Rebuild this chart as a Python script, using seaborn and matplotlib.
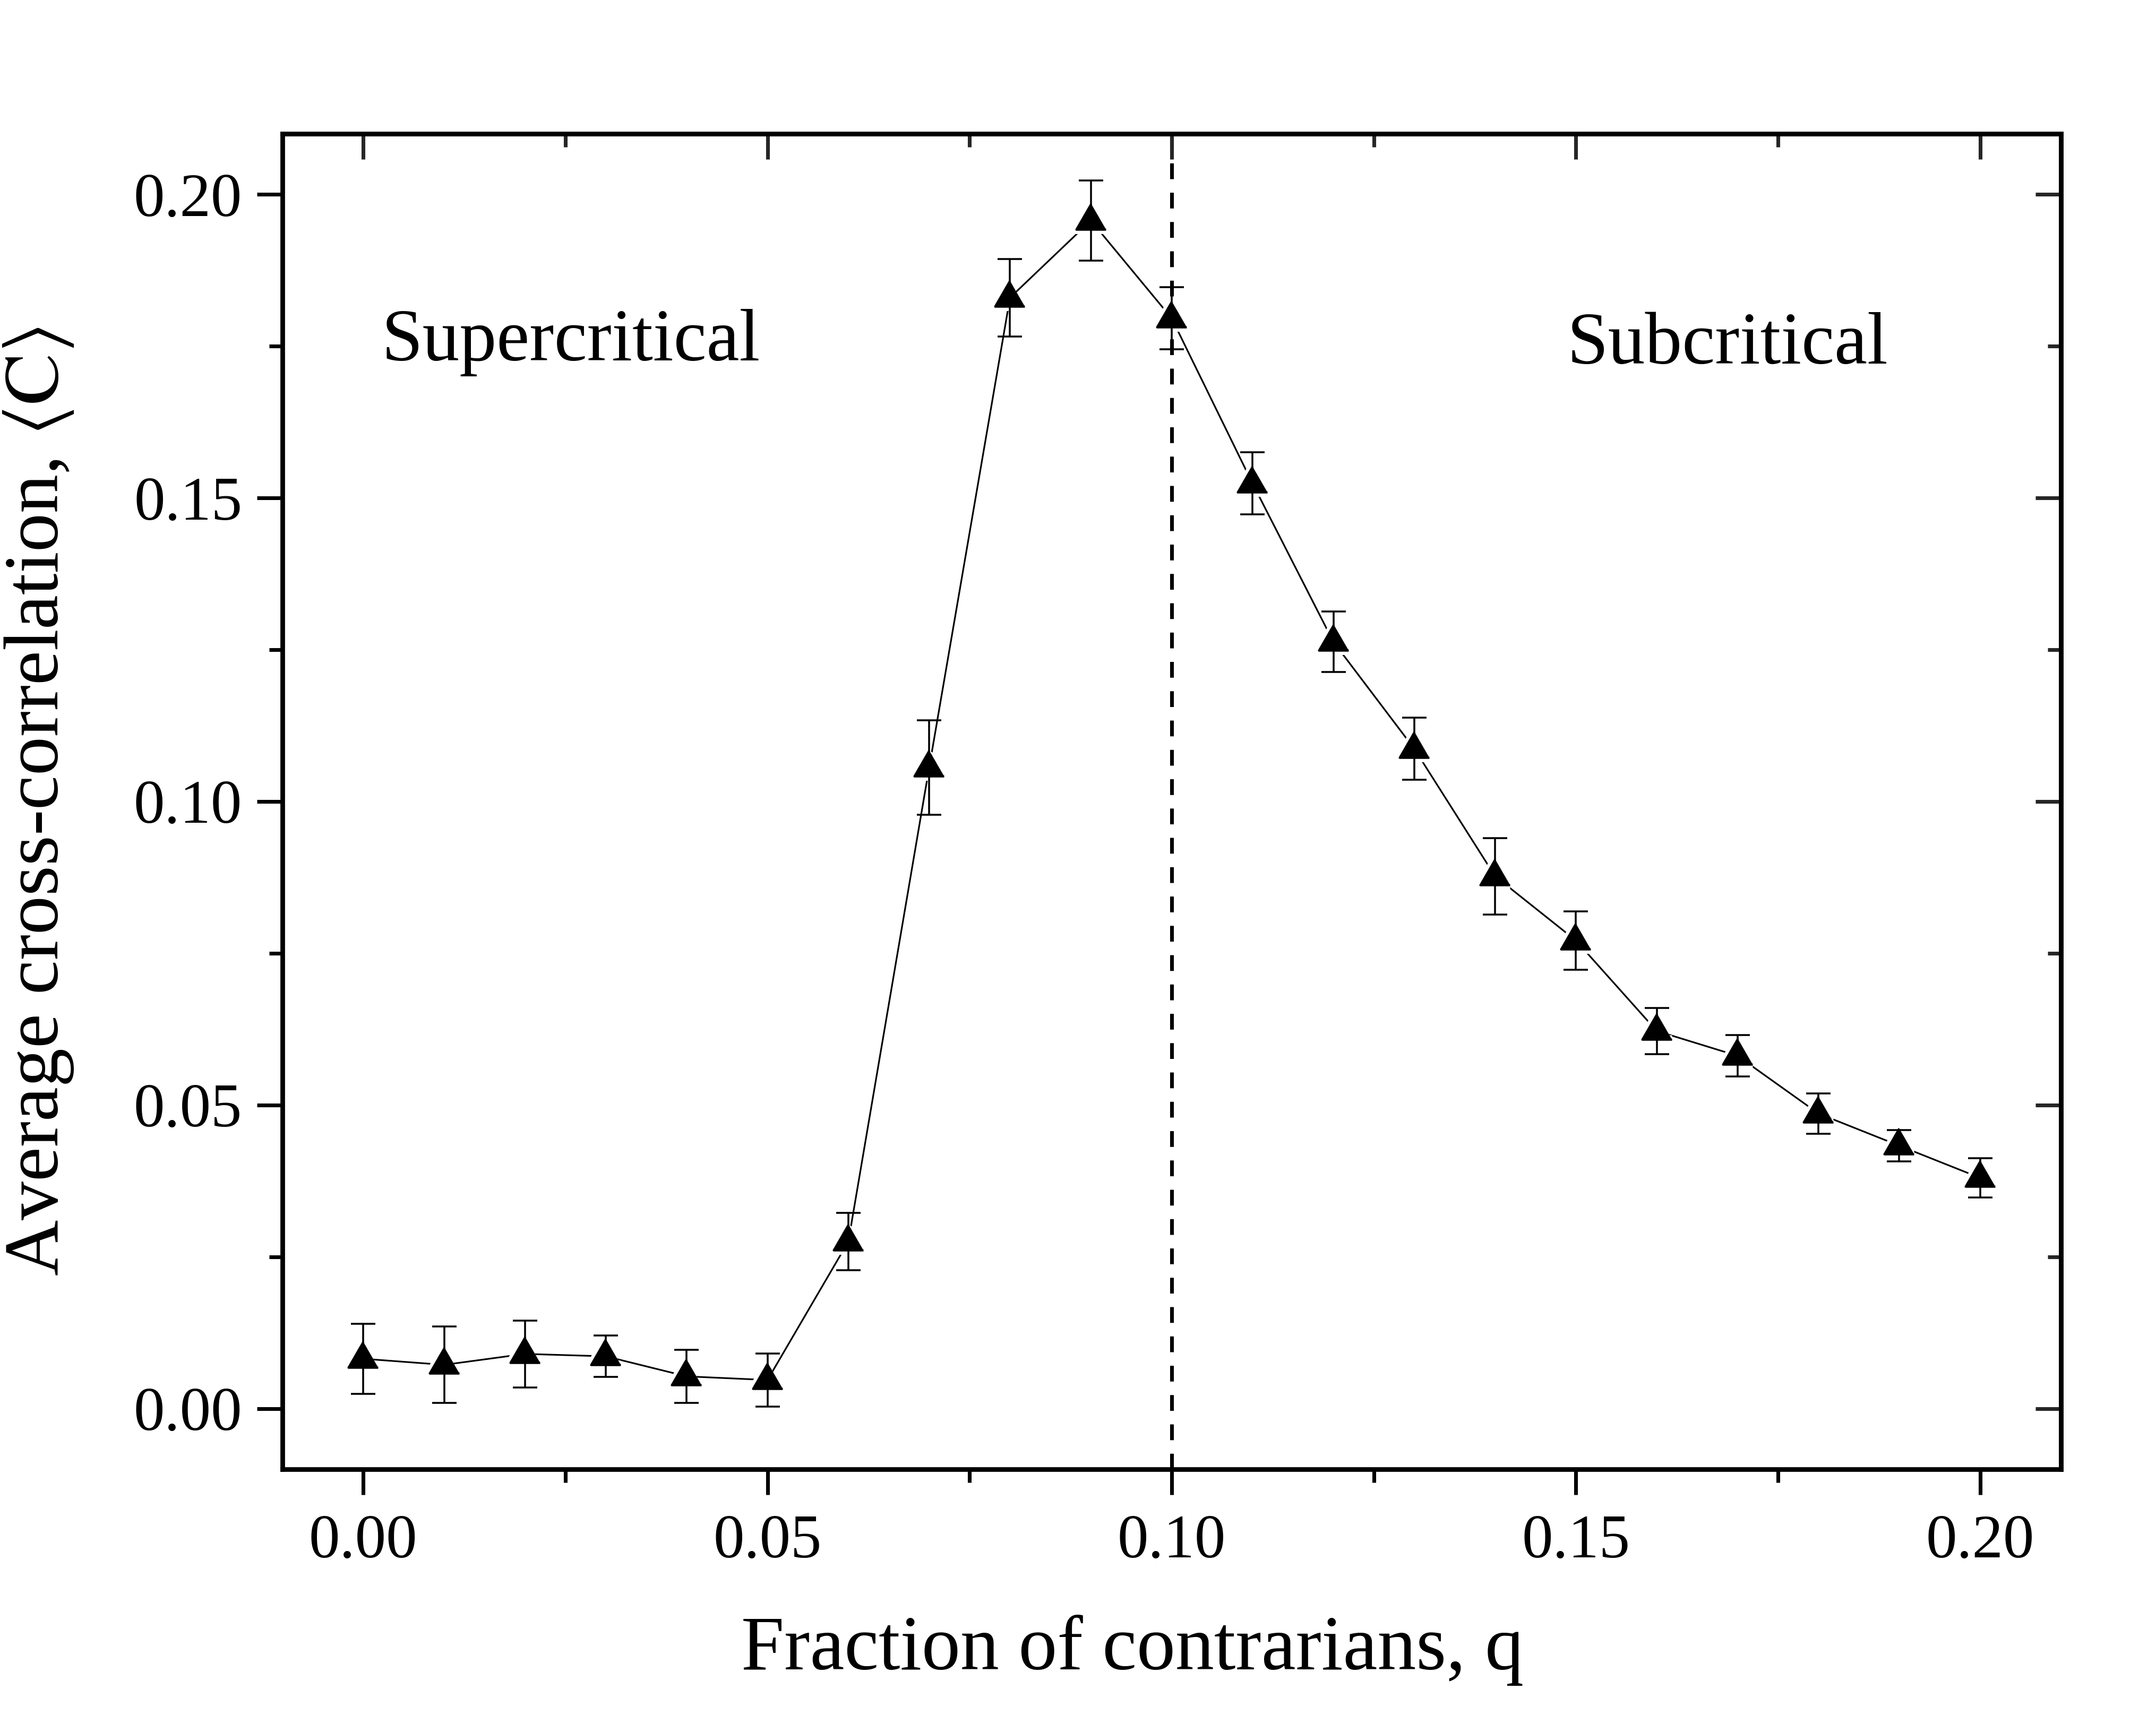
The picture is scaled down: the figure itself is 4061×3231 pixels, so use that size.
import numpy as np
import pandas as pd
import seaborn as sns
from matplotlib import pyplot as plt
from matplotlib import ticker as plticker

# values
q_values = [0.00, 0.01, 0.02, 0.03, 0.04, 0.05, 0.06, 0.07, 0.08, 0.09, 0.10,
            0.11, 0.12, 0.13, 0.14, 0.15, 0.16, 0.17, 0.18, 0.19, 0.20]
mean_corr = [0.0082, 0.0072, 0.0090, 0.0086, 0.0053, 0.0047, 0.0275, 0.1056,
             0.1830, 0.1957, 0.1796, 0.1524, 0.1263, 0.1087, 0.0877, 0.0771,
             0.0622, 0.0581, 0.0486, 0.0433, 0.0380]
corr_err = [0.0058, 0.0063, 0.0055, 0.0034, 0.0044, 0.0044, 0.0047, 0.0078,
            0.0064, 0.0066, 0.0051, 0.0051, 0.0050, 0.0051, 0.0063, 0.0048,
            0.0038, 0.0034, 0.0033, 0.0026, 0.0032]
x_ticks = [0.00, 0.05, 0.10, 0.15, 0.20]
y_ticks = [0.00, 0.05, 0.10, 0.15, 0.20]
q_critical = 0.10
region_labels = ['Supercritical', 'Subcritical']

df = pd.DataFrame({'q': q_values, 'C': mean_corr, 'err': corr_err})

sns.set_theme(style='ticks')
plt.rcParams['font.family'] = ['Liberation Serif', 'DejaVu Serif']
plt.rcParams['mathtext.fontset'] = 'stix'
plt.rcParams['text.color'] = 'black'
plt.rcParams['axes.labelcolor'] = 'black'

W, H, DPI = 4062, 3231, 300
fig = plt.figure(figsize=(W / DPI, H / DPI), dpi=DPI)
ax = fig.add_axes([532 / W, 1 - 2768 / H, (3882 - 532) / W, (2768 - 252) / H])

# equilateral triangle, centred on its centroid
tri = [(0, 0.5774), (-0.5, -0.2887), (0.5, -0.2887)]

# connecting line
sns.lineplot(data=df, x='q', y='C', color='black', linewidth=0.75, ax=ax,
             zorder=1)
# white halo so the line stops short of the markers
ax.plot(df['q'], df['C'], linestyle='none', marker=tri, markersize=15.5,
        markerfacecolor='white', markeredgecolor='white',
        markeredgewidth=4, zorder=2)
ax.errorbar(df['q'], df['C'], yerr=df['err'], fmt='none', ecolor='black',
            elinewidth=0.85, capsize=5.6, capthick=0.85, zorder=3)
ax.plot(df['q'], df['C'], linestyle='none', marker=tri, markersize=15.5,
        markerfacecolor='black', markeredgecolor='black',
        markeredgewidth=1, zorder=4)

ax.axvline(q_critical, color='black', linewidth=1.7, dashes=(4.2, 3.6),
           zorder=0)

ax.text(0.00225, 0.1727, region_labels[0], fontsize=33.5, va='baseline',
        color='black')
ax.text(0.1489, 0.1721, region_labels[1], fontsize=33.5, va='baseline',
        color='black')

ax.set_xlim(-0.01, 0.21)
ax.set_ylim(-0.01, 0.21)
ax.set_xticks(x_ticks)
ax.set_yticks(y_ticks)
ax.xaxis.set_minor_locator(plticker.MultipleLocator(0.025))
ax.yaxis.set_minor_locator(plticker.MultipleLocator(0.025))
ax.xaxis.set_major_formatter(plticker.FormatStrFormatter('%.2f'))
ax.yaxis.set_major_formatter(plticker.FormatStrFormatter('%.2f'))

for side in ['left', 'right', 'top', 'bottom']:
    ax.spines[side].set_linewidth(2.1)
    ax.spines[side].set_color('black')

ax.tick_params(which='major', direction='out', length=11.5, width=1.7,
               color='black', labelsize=28, labelcolor='black')
ax.tick_params(which='minor', direction='out', length=6, width=1.7,
               color='black')
ax.tick_params(axis='x', which='major', pad=9)
ax.tick_params(axis='y', which='major', pad=6.7)

# mirrored ticks on top and right point inward
top = ax.secondary_xaxis('top')
top.set_xticks(x_ticks)
top.xaxis.set_minor_locator(plticker.MultipleLocator(0.025))
top.tick_params(which='major', direction='in', length=11.5, width=1.7,
                labeltop=False)
top.tick_params(which='minor', direction='in', length=6, width=1.7)
top.spines['top'].set_linewidth(2.1)

right = ax.secondary_yaxis('right')
right.set_yticks(y_ticks)
right.yaxis.set_minor_locator(plticker.MultipleLocator(0.025))
right.tick_params(which='major', direction='in', length=11.5, width=1.7,
                  labelright=False)
right.tick_params(which='minor', direction='in', length=6, width=1.7)
right.spines['right'].set_linewidth(2.1)

ax.set_xlabel('Fraction of contrarians, q', fontsize=35, color='black')
ax.set_ylabel(r'Average cross-correlation, $\langle\mathrm{C}\rangle$',
              fontsize=35, color='black')
ax.xaxis.set_label_coords(0.478, -0.1089)
ax.yaxis.set_label_coords(-0.1164, 0.5)

fig.savefig('out.png', dpi=DPI, facecolor='white')
